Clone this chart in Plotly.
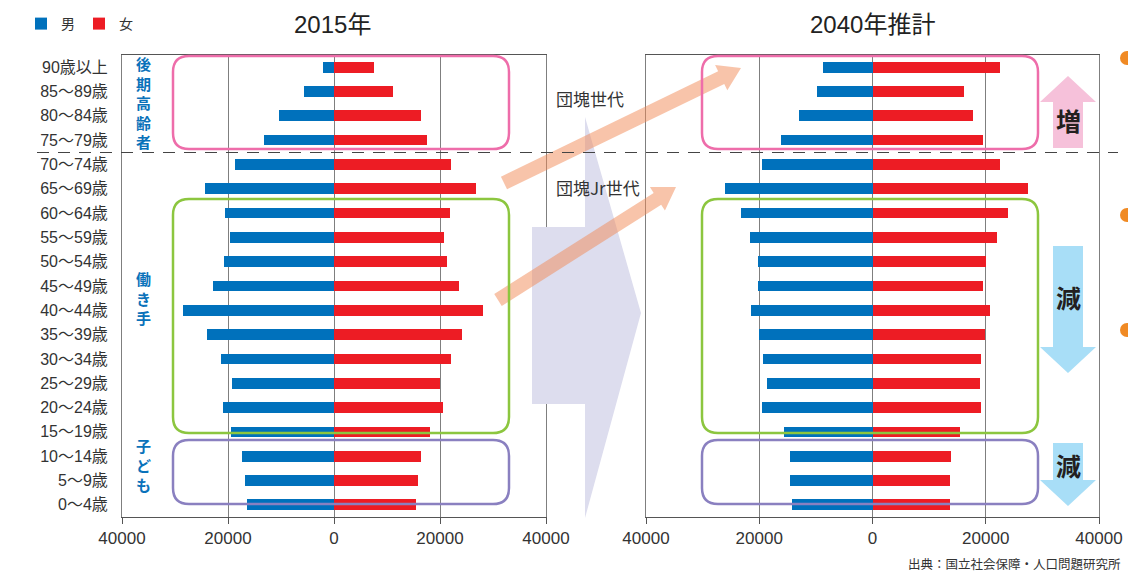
import math
import plotly.graph_objects as go

# ---------------- data ----------------
categories = ["90歳以上", "85～89歳", "80～84歳", "75～79歳", "70～74歳", "65～69歳",
              "60～64歳", "55～59歳", "50～54歳", "45～49歳", "40～44歳", "35～39歳",
              "30～34歳", "25～29歳", "20～24歳", "15～19歳", "10～14歳", "5～9歳", "0～4歳"]
male_2015 = [2100, 5600, 10300, 13300, 18600, 24300, 20500, 19600, 20700, 22800,
             28400, 23900, 21300, 19200, 20900, 19400, 17300, 16700, 16400]
female_2015 = [7600, 11200, 16400, 17500, 22000, 26700, 21800, 20700, 21400, 23500,
               28200, 24100, 22000, 20000, 20500, 18200, 16500, 15800, 15400]
male_2040 = [8700, 9800, 12900, 16100, 19600, 26000, 23200, 21600, 20200, 20200,
             21400, 20100, 19300, 18600, 19600, 15600, 14600, 14500, 14300]
female_2040 = [22600, 16100, 17800, 19500, 22600, 27500, 24000, 22000, 20100, 19500,
               20800, 19800, 19200, 18900, 19200, 15400, 13900, 13600, 13600]
xtick_vals = [-40000, -20000, 0, 20000, 40000]
xtick_text = ["40000", "20000", "0", "20000", "40000"]
series_names = ["男", "女"]
titles = ["2015年", "2040年推計"]

# ---------------- styling ----------------
W, H = 1128, 573
BLUE = "#0071BC"
RED = "#ED1C24"
FONT = "Liberation Sans, Noto Sans CJK JP, sans-serif"
JFONT = "Noto Sans CJK JP, sans-serif"
LABEL_BLUE = "#0A72BA"


def px(x):
    return x / W


def py(y):
    return 1 - y / H


def path_from(points, close=True):
    s = "M " + " L ".join(f"{px(x):.5f},{py(y):.5f}" for x, y in points)
    return s + (" Z" if close else "")


def rrect(x0, y0, x1, y1, r):
    P = lambda x, y: f"{px(x):.5f},{py(y):.5f}"
    return (f"M {P(x0 + r, y0)} L {P(x1 - r, y0)} Q {P(x1, y0)} {P(x1, y0 + r)} "
            f"L {P(x1, y1 - r)} Q {P(x1, y1)} {P(x1 - r, y1)} "
            f"L {P(x0 + r, y1)} Q {P(x0, y1)} {P(x0, y1 - r)} "
            f"L {P(x0, y0 + r)} Q {P(x0, y0)} {P(x0 + r, y0)} Z")


def arrow(sx, sy, tx, ty, w, L, hw):
    dx, dy = tx - sx, ty - sy
    d = math.hypot(dx, dy)
    ux, uy = dx / d, dy / d
    nx, ny = -uy, ux
    bx, by = tx - ux * L, ty - uy * L
    pts = [(sx + nx * w, sy + ny * w), (bx + nx * w, by + ny * w), (bx + nx * hw, by + ny * hw),
           (tx, ty), (bx - nx * hw, by - ny * hw), (bx - nx * w, by - ny * w),
           (sx - nx * w, sy - ny * w)]
    return path_from(pts)


fig = go.Figure()

panels = [(male_2015, female_2015, "x", "y", True), (male_2040, female_2040, "x2", "y2", False)]
for male, female, xa, ya, show in panels:
    fig.add_trace(go.Bar(y=categories, x=[-v for v in male], orientation="h", width=0.44,
                         marker=dict(color=BLUE, line=dict(width=0)), name=series_names[0],
                         xaxis=xa, yaxis=ya, showlegend=show, customdata=male,
                         hovertemplate="%{y}: %{customdata}<extra>男</extra>"))
    fig.add_trace(go.Bar(y=categories, x=female, orientation="h", width=0.44,
                         marker=dict(color=RED, line=dict(width=0)), name=series_names[1],
                         xaxis=xa, yaxis=ya, showlegend=show,
                         hovertemplate="%{y}: %{x}<extra>女</extra>"))

n = len(categories)
yrange = [n - 0.5, -0.5]
ydom = [py(517), py(55)]
xdom1 = [px(122), px(546)]
xdom2 = [px(646), px(1099)]

xcommon = dict(range=[-40000, 40000], tickvals=xtick_vals, ticktext=xtick_text,
               showgrid=True, gridcolor="#7f7f7f", gridwidth=1, zeroline=False,
               showline=True, linecolor="#555", linewidth=1, mirror=True,
               ticks="outside", ticklen=6, tickcolor="#555", automargin=False,
               tickfont=dict(family=FONT, size=17, color="#333"), fixedrange=True)
ycommon = dict(range=yrange, type="category", categoryorder="array", categoryarray=categories,
               showgrid=False, zeroline=False, showline=True, linecolor="#7f7f7f",
               linewidth=1, mirror=True, ticks="", domain=ydom, fixedrange=True, automargin=False)

tick_boundaries = [i + 0.5 for i in range(n - 1)]
ztick = dict(anchor="free", range=yrange, type="linear", tickvals=tick_boundaries,
             ticks="outside", ticklen=5, tickcolor="#444", showticklabels=False,
             showgrid=False, zeroline=False, showline=False, side="left", fixedrange=True,
             automargin=False)

fig.update_layout(
    width=W, height=H, margin=dict(l=0, r=0, t=0, b=0, pad=0, autoexpand=False),
    paper_bgcolor="white", plot_bgcolor="white", barmode="relative",
    font=dict(family=FONT, color="#333"),
    xaxis=dict(domain=xdom1, anchor="y", **xcommon),
    xaxis2=dict(domain=xdom2, anchor="y2", **xcommon),
    yaxis=dict(anchor="x", showticklabels=True, ticklabelstandoff=10,
               tickfont=dict(family=FONT, size=16, color="#333"), **ycommon),
    yaxis2=dict(anchor="x2", showticklabels=False, **ycommon),
    yaxis3=dict(ztick, overlaying="y", position=px(334), domain=ydom),
    yaxis4=dict(ztick, overlaying="y2", position=px(873), domain=ydom),
    legend=dict(orientation="h", x=px(21), y=py(8), xanchor="left", yanchor="top",
                font=dict(family=JFONT, size=14, color="#333"), bgcolor="rgba(0,0,0,0)",
                itemwidth=30, entrywidth=13, entrywidthmode="pixels", tracegroupgap=0),
    bargap=0,
)

shapes = []
# big lavender arrow
shapes.append(dict(type="path", path=path_from([(532, 227), (585, 227), (585, 117), (641, 313),
                                                 (585, 518), (585, 404), (532, 404)]),
                   fillcolor="#DDDDEE", line=dict(width=0), xref="paper", yref="paper", layer="above"))
# orange arrows
for s, t in [((504, 183), (741, 68)), ((498, 300), (676, 187))]:
    shapes.append(dict(type="path", path=arrow(s[0], s[1], t[0], t[1], 7, 22, 14),
                       fillcolor="rgba(242,138,86,0.5)", line=dict(width=0),
                       xref="paper", yref="paper", layer="above"))
# dashed separator
shapes.append(dict(type="line", x0=px(37), x1=px(1118), y0=py(152.5), y1=py(152.5),
                   xref="paper", yref="paper", line=dict(color="#444", width=1.2, dash="12px,9px"),
                   layer="above"))
# group boxes
for x0, x1 in [(173, 509), (702, 1038)]:
    for y0, y1, c in [(56, 149, "#EE6DAA"), (199, 433, "#8CC63F"), (440, 504, "#8A80C0")]:
        shapes.append(dict(type="path", path=rrect(x0, y0, x1, y1, 16), line=dict(color=c, width=2.5),
                           fillcolor="rgba(0,0,0,0)", xref="paper", yref="paper", layer="above"))
# up arrow (増)
shapes.append(dict(type="path", path=path_from([(1053, 148), (1053, 102), (1040, 102), (1068, 76),
                                                 (1096, 102), (1083, 102), (1083, 148)]),
                   fillcolor="#F6C1DA", line=dict(width=0), xref="paper", yref="paper", layer="above"))
# down arrows (減)
for top, base, tip in [(246, 347, 373), (443, 480, 506)]:
    shapes.append(dict(type="path", path=path_from([(1053, top), (1053, base), (1040, base), (1068, tip),
                                                     (1096, base), (1083, base), (1083, top)]),
                       fillcolor="#A8DEF7", line=dict(width=0), xref="paper", yref="paper", layer="above"))
# orange bullets at right edge
for cy in [58, 215, 330]:
    shapes.append(dict(type="circle", x0=px(1120), x1=px(1134), y0=py(cy + 7), y1=py(cy - 7),
                       fillcolor="#F08A24", line=dict(width=0), xref="paper", yref="paper", layer="above"))
fig.update_layout(shapes=shapes)

ann = []


def text_at(t, x, y, size, color="#333", family=JFONT, xanchor="center"):
    ann.append(dict(text=t, x=px(x), y=py(y), xanchor=xanchor, yanchor="middle", showarrow=False,
                    xref="paper", yref="paper", font=dict(family=family, size=size, color=color)))


# titles
text_at(titles[0], 332, 24, 24, "#222", FONT)
text_at(titles[1], 872, 24, 24, "#222", FONT)
# vertical group labels (one character per line)
for chars, yc in [("後期高齢者", 102.7), ("働き手", 297.8), ("子ども", 464.5)]:
    text_at("<b>" + "<br>".join(chars) + "</b>", 143.5, yc, 15, LABEL_BLUE)
# generation labels
text_at("団塊世代", 590, 98, 17)
text_at("団塊Jr世代", 598, 187, 17)
# increase / decrease marks
for t, y in [("増", 120), ("減", 297), ("減", 465)]:
    text_at(f"<b>{t}</b>", 1068, y, 25, "#231F20")
# source
text_at("出典：国立社会保障・人口問題研究所", 1123, 563, 12.5, "#333", JFONT, "right")
fig.update_layout(annotations=ann)

fig.write_html("out.html")
